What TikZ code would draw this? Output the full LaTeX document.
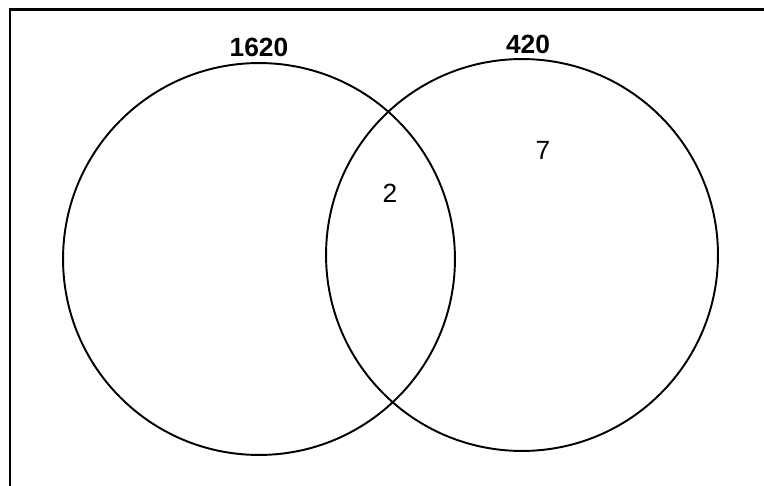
\documentclass[tikz,border=0pt]{standalone}
\usepackage{fontspec}
\setmainfont{Liberation Sans}
\usetikzlibrary{positioning}
\tikzset{
  setcircle/.style={draw=black, circle, line width=1.1pt, inner sep=0pt,
    minimum size=7.84cm},
  setlabel/.style={font=\fontsize{15}{18}\selectfont\bfseries},
  count/.style={font=\fontsize{15}{18}\selectfont}
}
\begin{document}
\begin{tikzpicture}[x=0.02cm, y=-0.02cm]
  \useasboundingbox (0,0) rectangle (764,486);
  % frame
  \coordinate (fbl) at (10,486);
  \coordinate (ftl) at (10,9.5);
  \coordinate (ftr) at (764,9.5);
  \draw[line width=1.7pt] (fbl) -- (ftl) -- (ftr);

  \node[setcircle] (setA) at (259,259) {};
  \node[setcircle] (setB) at (522,255) {};

  \node[setlabel] (labA) at (259,47) {1620};
  \node[setlabel] (labB) at (528,44) {420};

  \node[count] (both) at (390,193) {2};
  \node[count] (onlyB) at (543,150) {7};
\end{tikzpicture}
\end{document}
